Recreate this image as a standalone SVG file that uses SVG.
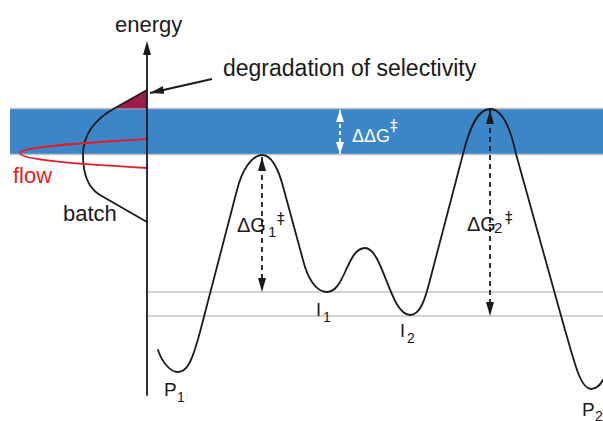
<svg xmlns="http://www.w3.org/2000/svg" width="603" height="421" viewBox="0 0 603 421">
<style>
text{font-family:"Liberation Sans",Arial,sans-serif;fill:#1a1a1a}
.dg{font-family:"DejaVu Sans","Liberation Sans",sans-serif}
.ln{fill:none;stroke:#1a1a1a;stroke-width:1.8;stroke-linejoin:round;stroke-linecap:round}
.grey{stroke:#c4c4c4;stroke-width:1.6;fill:none}
.dash{fill:none;stroke:#1a1a1a;stroke-width:1.8;stroke-dasharray:5,4}
.wdash{fill:none;stroke:#ffffff;stroke-width:1.8;stroke-dasharray:4,3}
</style>
<defs>
<marker id="ah" markerUnits="userSpaceOnUse" markerWidth="14" markerHeight="8" refX="14" refY="4" orient="auto-start-reverse" viewBox="0 0 14 8"><path d="M0,0 L14,4 L0,8 z" fill="#1a1a1a"/></marker>
<marker id="wh" markerUnits="userSpaceOnUse" markerWidth="12" markerHeight="8" refX="12" refY="4" orient="auto-start-reverse" viewBox="0 0 12 8"><path d="M0,0 L12,4 L0,8 z" fill="#ffffff"/></marker>
</defs>
<g id="band">
<rect x="10" y="109" width="593" height="45" fill="#3b86c8"/>
<line class="grey" x1="10" y1="108.5" x2="603" y2="108.5"/>
<line class="grey" x1="10" y1="154.5" x2="603" y2="154.5"/>
</g>
<g id="levels">
<line class="grey" x1="147" y1="292" x2="603" y2="292"/>
<line class="grey" x1="147" y1="316" x2="603" y2="316"/>
</g>
<g id="distributions">
<polygon points="147,90 115,108.5 147,108.5" fill="#9b1b4f"/>
<path class="ln" d="M147,90 L115,108 C95,119 83,135 83,155 C83,175 88,188 100,195 L147,222"/>
<path fill="none" stroke="#e31e24" stroke-width="1.8" d="M147,139 C80,143 20,147 20,153 C20,160 80,164 147,168"/>
</g>
<g id="axis">
<line class="ln" x1="147" y1="395" x2="147" y2="52" stroke-width="2"/>
<polygon points="147,41 143,55 151,55" fill="#1a1a1a"/>
</g>
<g id="profile">
<path class="ln" d="M158,350 C162,362 170,372 178,372 C188,372 193,358 200,332 L237,190 C242,170 252,155 262,155 C272,155 279,170 284,190 L303,260 C307,276 315,292 327,292 C345,292 347,248 365,248 C383,248 390,315 410,315 C420,315 425,300 430,280 L463,154 C470,126 478,109 490,109 C502,109 510,126 516,154 L565,330 C574,360 580,389 591,389 C597,389 600,385 603,380"/>
</g>
<g id="connectors">
<line x1="212" y1="79" x2="150" y2="93" stroke="#1a1a1a" stroke-width="1.8" marker-end="url(#ah)"/>
<line class="dash" x1="262" y1="157" x2="262" y2="292" marker-start="url(#ah)" marker-end="url(#ah)"/>
<line class="dash" x1="490" y1="110" x2="490" y2="316" marker-start="url(#ah)" marker-end="url(#ah)"/>
<line class="wdash" x1="340" y1="110" x2="340" y2="154" marker-start="url(#wh)" marker-end="url(#wh)"/>
</g>
<g id="labels">
<text x="115" y="32" font-size="22">energy</text>
<text x="223" y="76" font-size="23">degradation of selectivity</text>
<text x="13" y="183" font-size="22" style="fill:#e31e24">flow</text>
<text x="63" y="221" font-size="22">batch</text>
<text x="352" y="142" font-size="18" style="fill:#ffffff">ΔΔG<tspan class="dg" x="390" y="131" font-size="15">‡</tspan></text>
<text x="237" y="232" font-size="20">ΔG<tspan x="268" y="237" font-size="15">1</tspan><tspan class="dg" x="277" y="224" font-size="15">‡</tspan></text>
<text x="467" y="231" font-size="20">ΔG<tspan x="494" y="233" font-size="15">2</tspan><tspan class="dg" x="505" y="223" font-size="15">‡</tspan></text>
<text x="316" y="316" font-size="18">I<tspan x="323" y="322" font-size="14">1</tspan></text>
<text x="400" y="337" font-size="18">I<tspan x="407" y="343" font-size="14">2</tspan></text>
<text x="164" y="396" font-size="19">P<tspan x="177" y="402" font-size="14">1</tspan></text>
<text x="582" y="416" font-size="19">P<tspan x="595" y="421" font-size="14">2</tspan></text>
</g>
</svg>
